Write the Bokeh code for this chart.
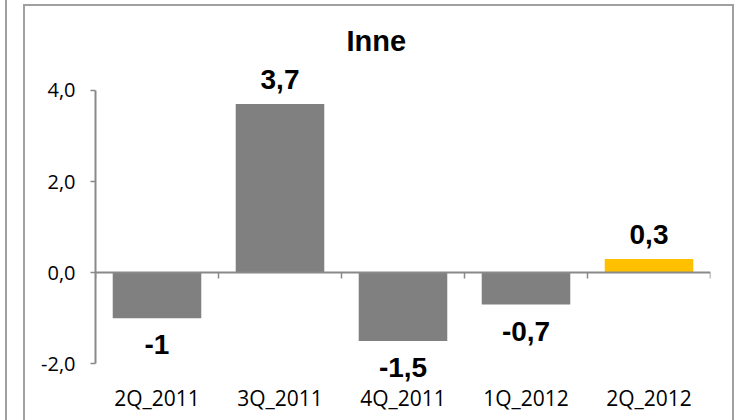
from bokeh.plotting import figure
from bokeh.models import (ColumnDataSource, FactorRange, Range1d, FixedTicker,
                          CustomJSTickFormatter, LabelSet)
from bokeh.core.properties import value
from bokeh.embed import file_html
from bokeh.resources import INLINE

# ---- data ----
title_text = "Inne"
categories = ["2Q_2011", "3Q_2011", "4Q_2011", "1Q_2012", "2Q_2012"]
values = [-1.0, 3.7, -1.5, -0.7, 0.3]
y_ticks = [-2, 0, 2, 4]
highlight = "2Q_2012"

# ---- styles ----
bar_gray = "#808080"
bar_gold = "#FFC000"
axis_gray = "#898989"
border_gray = "#A0A0A0"

labels = [("%g" % v).replace(".", ",") for v in values]
colors = [bar_gold if c == highlight else bar_gray for c in categories]
offsets = [15 if v >= 0 else -36 for v in values]

src = ColumnDataSource(dict(cat=categories, val=values, label=labels,
                            color=colors, off=offsets))

p = figure(width=738, height=420,
           x_range=FactorRange(factors=categories, range_padding=0),
           y_range=Range1d(-2.5, 4.7),
           output_backend="svg", toolbar_location=None,
           min_border_left=95, min_border_right=28,
           min_border_top=58, min_border_bottom=34,
           title=title_text)

p.background_fill_color = "white"
p.border_fill_color = None
p.outline_line_color = None
p.xgrid.grid_line_color = None
p.ygrid.grid_line_color = None

# chart frame lines (decoration only) drawn as CSS background behind the canvas
g = "linear-gradient(%s,%s)" % (border_gray, border_gray)
p.styles = {
    "background-color": "white",
    "background-image": ", ".join([g] * 4),
    "background-size": "2px 420px, 2px 416px, 711px 2px, 2px 416px",
    "background-position": "5px 0px, 23px 4px, 23px 4px, 732px 4px",
    "background-repeat": "no-repeat",
}

# title
p.title.text_font = "Liberation Sans"
p.title.text_font_size = "29px"
p.title.text_font_style = "bold"
p.title.text_color = "black"
p.title.align = "left"
p.title.offset = 251
p.title.standoff = 3

# bars
p.vbar(x="cat", top="val", bottom=0, width=0.72, source=src,
       fill_color="color", line_color=None)

# zero axis line with boundary ticks
n = len(categories)
p.segment(x0=[0], y0=[0], x1=[n], y1=[0], line_color=axis_gray, line_width=2)
p.segment(x0=list(range(n + 1)), y0=[0] * (n + 1),
          x1=list(range(n + 1)), y1=[-0.13] * (n + 1),
          line_color=axis_gray, line_width=1.5)

# value labels
p.add_layout(LabelSet(x="cat", y="val", text="label", source=src,
                      y_offset="off", text_align="center",
                      text_baseline="alphabetic",
                      text_font=value("Liberation Sans"),
                      text_font_size="28px", text_font_style="bold",
                      text_color="black"))

# x axis (labels only)
xa = p.xaxis[0]
xa.axis_line_color = None
xa.major_tick_line_color = None
xa.minor_tick_line_color = None
xa.major_tick_out = 0
xa.major_tick_in = 0
xa.major_label_standoff = -3
xa.major_label_text_font = "Open Sans"
xa.major_label_text_font_size = "21px"
xa.major_label_text_color = "black"

# y axis
ya = p.yaxis[0]
ya.ticker = FixedTicker(ticks=y_ticks)
ya.bounds = (min(y_ticks), max(y_ticks))
ya.formatter = CustomJSTickFormatter(code="return tick.toFixed(1).replace('.', ',');")
ya.axis_line_color = axis_gray
ya.axis_line_width = 2
ya.major_tick_line_color = axis_gray
ya.major_tick_line_width = 1.5
ya.major_tick_out = 5
ya.major_tick_in = 0
ya.minor_tick_line_color = None
ya.major_label_standoff = 15
ya.major_label_text_font = "Open Sans"
ya.major_label_text_font_size = "20px"
ya.major_label_text_color = "black"

open("out.html", "w").write(file_html(p, INLINE))
